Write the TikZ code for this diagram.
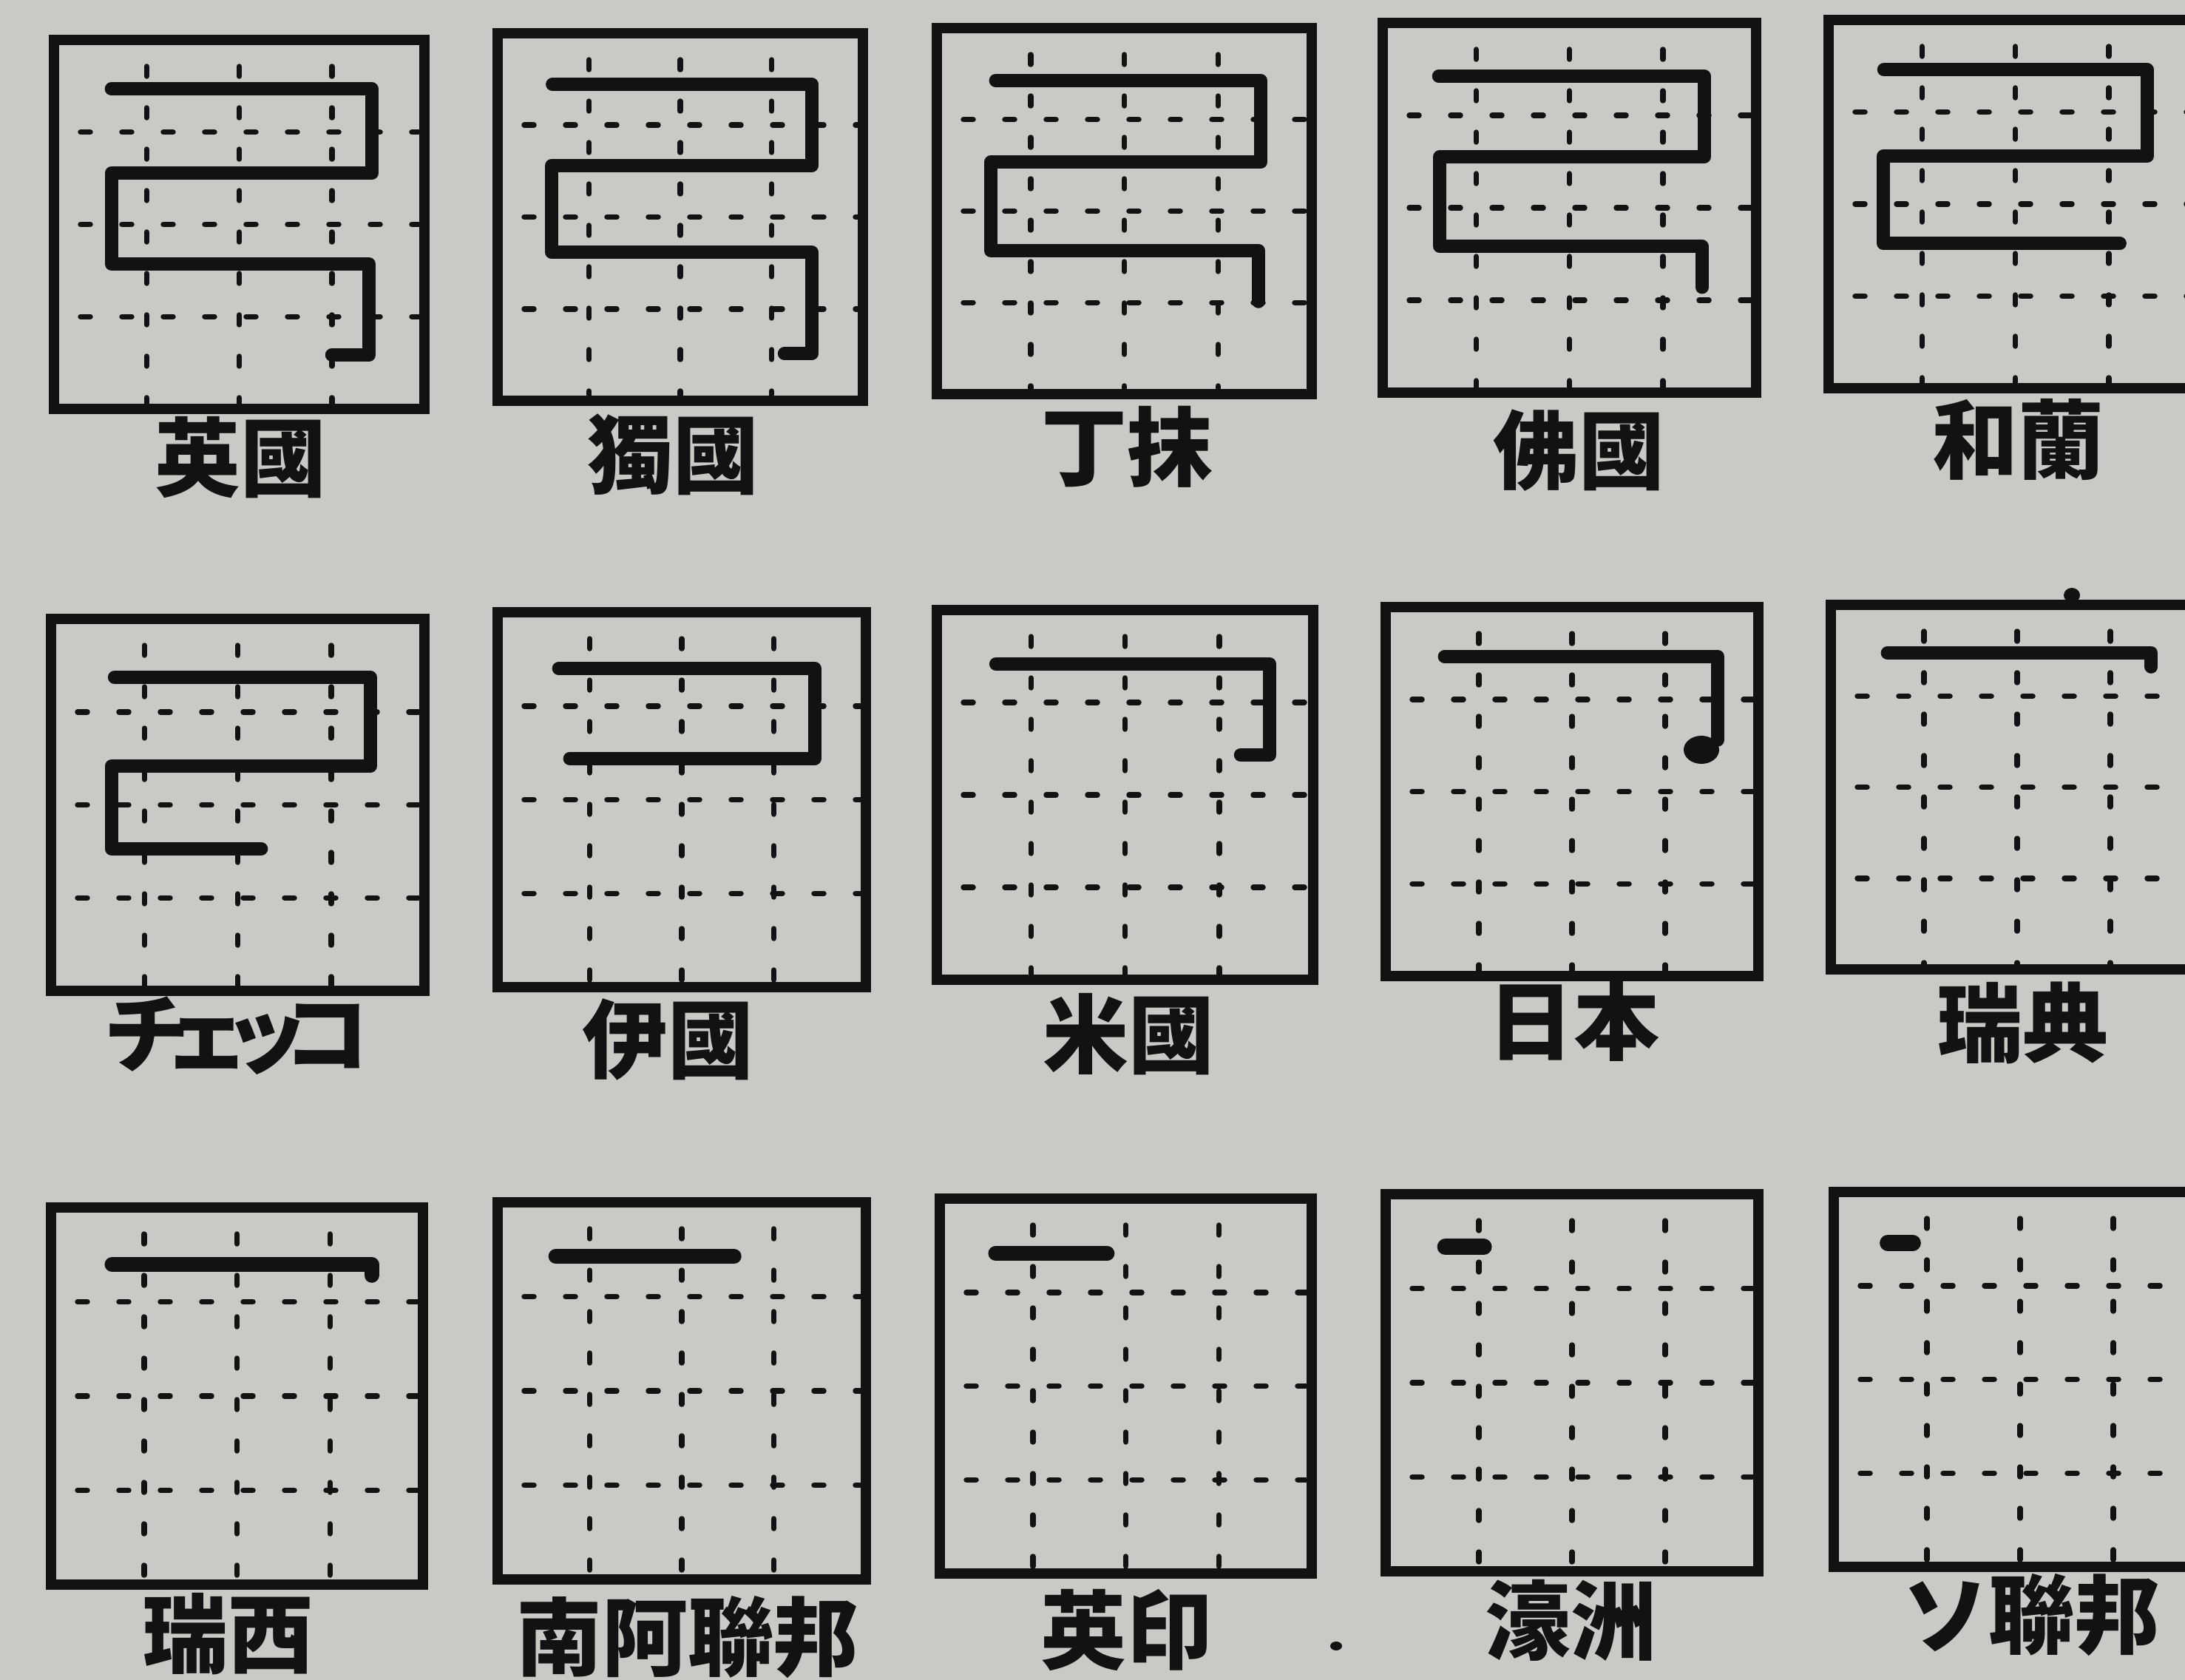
\documentclass[tikz,border=0pt]{standalone}
\usepackage{fontspec}
\newfontfamily\cjk{Noto Sans CJK JP}
\definecolor{paper}{RGB}{201,201,198}
\definecolor{ink}{RGB}{18,18,18}
\tikzset{
  panelbox/.style={draw=ink, line width=0.14cm, rectangle, inner sep=0pt, outer sep=0pt},
  gridline/.style={draw=ink, line width=0.075cm, line cap=round, dash pattern=on 0.13cm off 0.43cm, dash phase=0.2cm},
  trail/.style={draw=ink, line width=0.18cm, line cap=round, line join=round},
  lab/.style={font={\cjk\bfseries\fontsize{33pt}{33pt}\selectfont}, text=ink, inner sep=0pt, anchor=base},
}
% #1 name, #2 left, #3 top, #4 width, #5 height (cm, top measured downward)
\newcommand\mypanel[5]{%
  \node[panelbox, minimum width=#4cm, minimum height=#5cm] (#1) at ({#2+#4/2},{-(#3+#5/2)}) {};
  \begin{scope}[shift={(#2,-#3)}, x=#4cm, y=-#5cm]
    \foreach \f in {0.25,0.5,0.75} {
      \draw[gridline] (\f,0) -- (\f,1);
      \draw[gridline] (0,\f) -- (1,\f);
    }
  \end{scope}}
\newcommand\mytrail[6][]{%
  \begin{scope}[shift={(#2,-#3)}, x=#4cm, y=-#5cm]
    \draw[trail,#1] #6;
  \end{scope}}
\begin{document}
\begin{tikzpicture}
\fill[paper] (0,0) rectangle (29.55,-22.72);
\useasboundingbox (0,0) rectangle (29.55,-22.72);
\clip (0,0) rectangle (29.55,-22.72);

% ---------- row 1 ----------
\mypanel{b11}{0.73}{0.54}{5.01}{4.99}
\mytrail{0.73}{0.54}{5.01}{4.99}{(0.155,0.133) -- (0.858,0.133) -- (0.858,0.361) -- (0.155,0.361) -- (0.155,0.607) -- (0.85,0.607) -- (0.85,0.854) -- (0.75,0.854)}
\mypanel{b12}{6.73}{0.45}{4.94}{4.97}
\mytrail{6.73}{0.45}{4.94}{4.97}{(0.15,0.139) -- (0.86,0.139) -- (0.86,0.36) -- (0.148,0.36) -- (0.148,0.596) -- (0.86,0.596) -- (0.86,0.872) -- (0.785,0.872)}
\mypanel{b13}{12.67}{0.38}{5.07}{4.95}
\mytrail{12.67}{0.38}{5.07}{4.95}{(0.157,0.143) -- (0.864,0.143) -- (0.864,0.366) -- (0.144,0.366) -- (0.144,0.608) -- (0.858,0.608) -- (0.858,0.747)}
\mypanel{b14}{18.70}{0.31}{5.05}{5.00}
\mytrail{18.70}{0.31}{5.05}{5.00}{(0.15,0.144) -- (0.861,0.144) -- (0.861,0.362) -- (0.153,0.362) -- (0.153,0.604) -- (0.855,0.604) -- (0.855,0.715)}
\mypanel{b15}{24.73}{0.27}{5.05}{4.98}
\mytrail{24.73}{0.27}{5.05}{4.98}{(0.148,0.135) -- (0.853,0.135) -- (0.853,0.37) -- (0.147,0.37) -- (0.147,0.607) -- (0.78,0.607)}

\node[lab] (l11) at (3.25,-6.62) {英國};
\node[lab] (l12) at (9.10,-6.58) {獨國};
\node[lab] (l13) at (15.24,-6.48) {丁抹};
\node[lab] (l14) at (21.35,-6.52) {佛國};
\node[lab] (l15) at (27.29,-6.38) {和蘭};

% ---------- row 2 ----------
\mypanel{b21}{0.69}{8.37}{5.05}{5.03}
\mytrail{0.69}{8.37}{5.05}{5.03}{(0.17,0.157) -- (0.855,0.157) -- (0.855,0.396) -- (0.162,0.396) -- (0.162,0.618) -- (0.563,0.618)}
\mypanel{b22}{6.73}{8.28}{4.98}{5.07}
\mytrail{6.73}{8.28}{4.98}{5.07}{(0.166,0.15) -- (0.861,0.15) -- (0.861,0.39) -- (0.196,0.39)}
\mypanel{b23}{12.67}{8.25}{5.09}{5.00}
\mytrail{12.67}{8.25}{5.09}{5.00}{(0.157,0.146) -- (0.884,0.146) -- (0.884,0.392) -- (0.807,0.392)}
\mypanel{b24}{18.74}{8.21}{5.04}{4.99}
\mytrail{18.74}{8.21}{5.04}{4.99}{(0.158,0.134) -- (0.891,0.134) -- (0.891,0.36)}
\fill[ink] (23.01,-10.14) ellipse [x radius=0.24cm, y radius=0.19cm];
\mypanel{b25}{24.76}{8.18}{5.04}{4.93}
\mytrail{24.76}{8.18}{5.04}{4.93}{(0.152,0.132) -- (0.86,0.132) -- (0.86,0.17)}
\fill[ink] (28.02,-8.05) ellipse [x radius=0.11cm, y radius=0.1cm];

\node[lab] (l21) at (3.20,-14.41) {チ\kern-.3emェ\kern-.3emッ\kern-.3emコ};
\node[lab] (l22) at (9.03,-14.49) {伊國};
\node[lab] (l23) at (15.26,-14.42) {米國};
\node[lab] (l24) at (21.28,-14.24) {日本};
\node[lab] (l25) at (27.35,-14.27) {瑞典};

% ---------- row 3 ----------
\mypanel{b31}{0.69}{16.33}{5.03}{5.10}
\mytrail[line width=0.2cm]{0.69}{16.33}{5.03}{5.10}{(0.164,0.151) -- (0.862,0.151) -- (0.862,0.18)}
\mypanel{b32}{6.73}{16.26}{4.98}{5.10}
\mytrail[line width=0.2cm]{6.73}{16.26}{4.98}{5.10}{(0.158,0.143) -- (0.642,0.143)}
\mypanel{b33}{12.71}{16.21}{5.03}{5.07}
\mytrail[line width=0.2cm]{12.71}{16.21}{5.03}{5.07}{(0.15,0.146) -- (0.45,0.146)}
\mypanel{b34}{18.74}{16.15}{5.04}{5.10}
\mytrail[line width=0.22cm]{18.74}{16.15}{5.04}{5.10}{(0.16,0.14) -- (0.263,0.14)}
\mypanel{b35}{24.80}{16.12}{5.04}{5.07}
\mytrail[line width=0.22cm]{24.80}{16.12}{5.04}{5.07}{(0.145,0.136) -- (0.212,0.136)}

\node[lab] (l31) at (3.08,-22.53) {瑞西};
\node[lab] (l32) at (9.30,-22.57) {南阿聯邦};
\node[lab] (l33) at (15.23,-22.48) {英印};
\node[lab] (l34) at (21.24,-22.35) {濠洲};
\node[lab] (l35) at (27.47,-22.27) {ソ聯邦};

\fill[ink] (18.07,-22.26) ellipse [x radius=0.08cm, y radius=0.06cm];
\end{tikzpicture}
\end{document}
